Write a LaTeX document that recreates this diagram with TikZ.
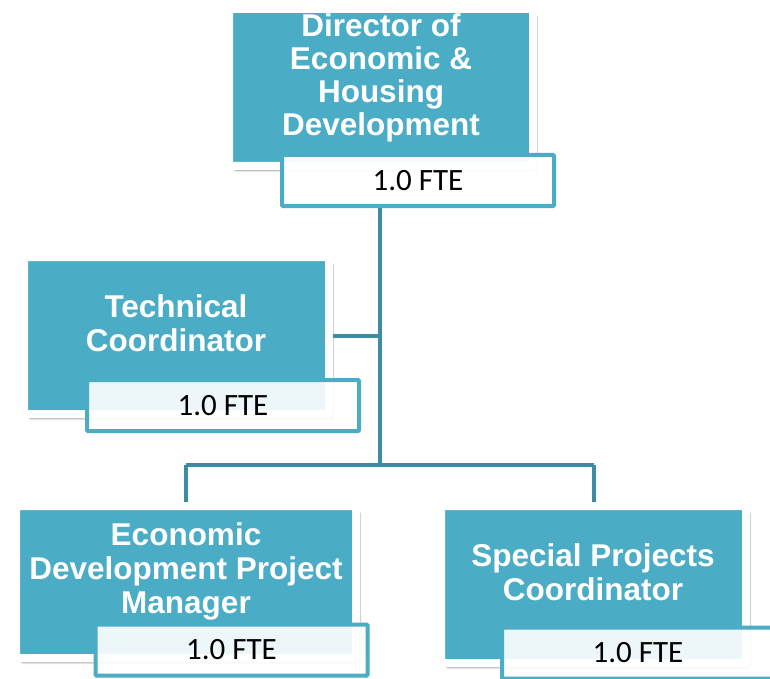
\documentclass[tikz,border=0pt]{standalone}
\usepackage{fontspec}
\newfontfamily\titlefont{Liberation Sans}
\newfontfamily\ftefont{Carlito}
\usetikzlibrary{shadows,backgrounds}
\definecolor{teal1}{HTML}{4BACC6}
\definecolor{conn}{HTML}{3C8DA3}
\tikzset{
  posbox/.style={draw=white, line width=8pt, fill=teal1, rounded corners=2pt,
    general shadow={shadow xshift=5pt, shadow yshift=-6pt, opacity=0.10, fill=black},
    general shadow={shadow xshift=4.5pt, shadow yshift=-5pt, opacity=0.15, fill=black},
    inner sep=0pt},
  ftebox/.style={draw=teal1, line width=4pt, fill=white, fill opacity=0.9,
    draw opacity=1, text opacity=1, rounded corners=1pt,
    minimum width=272pt, minimum height=51pt, inner sep=0pt,
    font=\ftefont\fontsize{31}{36}\selectfont},
  titletext/.style={text=white, align=center, inner sep=0pt,
    font=\titlefont\bfseries\fontsize{31.5}{34}\selectfont},
  connector/.style={draw=conn, line width=4pt}
}
\begin{document}
\begin{tikzpicture}[x=1pt,y=-1pt]
\useasboundingbox (0,0) rectangle (770,679);
\clip (0,0) rectangle (770,679);
% trunk coordinate
\coordinate (j) at (380,465);
% boxes
\node[posbox, minimum width=304pt, minimum height=157pt] (dir) at (381,87.5) {};
\node[posbox, minimum width=305pt, minimum height=157pt] (tech) at (176.5,335.5) {};
\node[posbox, minimum width=340pt, minimum height=152pt] (edpm) at (186,582) {};
\node[posbox, minimum width=305pt, minimum height=157pt] (spc) at (593.5,584.5) {};
% titles (anchor = baseline of last line)
\node[titletext, anchor=base, font=\titlefont\bfseries\fontsize{31.5}{33.3}\selectfont] (dirt) at (381,136) {Director of\\Economic \&\\Housing\\Development};
\node[titletext, anchor=base] (techt) at (176,351) {Technical\\Coordinator};
\node[titletext, anchor=base] (edpmt) at (186,613) {Economic\\Development Project\\Manager};
\node[titletext, anchor=base] (spct) at (593,600) {Special Projects\\Coordinator};
% FTE boxes
\node[ftebox, fill opacity=0.95] (dirf) at (418,180.5) {1.0 FTE};
\node[ftebox] (techf) at (223,405.5) {1.0 FTE};
\node[ftebox] (edpmf) at (231.5,650) {1.0 FTE};
\node[ftebox] (spcf) at (638,653) {1.0 FTE};
% page background and connectors behind the boxes
\begin{scope}[on background layer]
\fill[white] (-5,-5) rectangle (775,684);
\draw[connector] (j |- dirf.south) -- (j);
\draw[connector] (tech.east) -- (tech.east -| j);
\draw[connector] (j -| edpm.north) -- (j -| spc.north);
\draw[connector] (j -| edpm.north) -- (edpm.north);
\draw[connector] (j -| spc.north) -- (spc.north);
\end{scope}
\end{tikzpicture}
\end{document}
